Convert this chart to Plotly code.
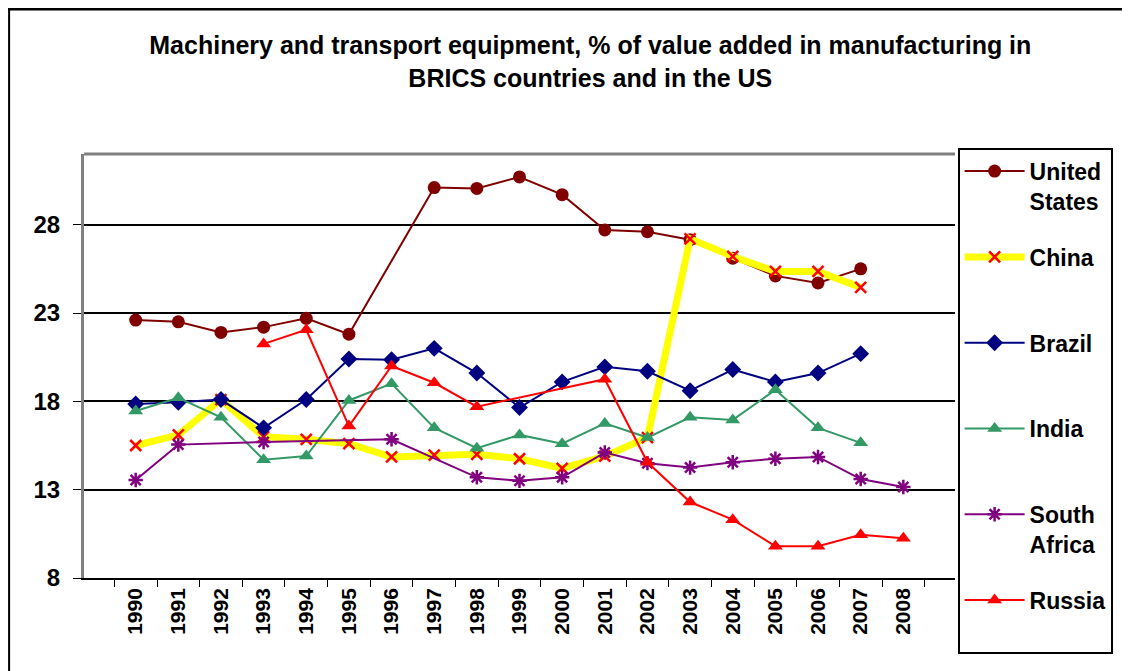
import plotly.graph_objects as go

# %%
# Data (None = no point shown for that year)
years = [str(y) for y in range(1990, 2009)]

united_states = [22.6, 22.5, 21.9, 22.2, 22.7, 21.8, None, 30.1, 30.05, 30.7, 29.7,
                 27.7, 27.6, 27.15, 26.1, 25.1, 24.7, 25.5, None]
china = [15.5, 16.1, 18.1, 16.0, 15.85, 15.6, 14.85, 14.95, 15.0, 14.75, 14.2,
         14.9, 15.95, 27.2, 26.2, 25.35, 25.35, 24.45, None]
brazil = [17.85, 17.95, 18.1, 16.5, 18.1, 20.4, 20.35, 21.0, 19.6, 17.65, 19.1,
          19.95, 19.7, 18.6, 19.8, 19.1, 19.6, 20.7, None]
india = [17.45, 18.2, 17.1, 14.7, 14.9, 18.05, 19.0, 16.5, 15.35, 16.1, 15.6,
         16.75, 15.95, 17.1, 16.95, 18.65, 16.5, 15.65, None]
south_africa = [13.55, 15.55, None, 15.7, None, None, 15.85, None, 13.7, 13.5, 13.7,
                15.1, 14.5, 14.25, 14.55, 14.75, 14.85, 13.6, 13.15]
russia = [None, None, None, 21.25, 22.05, 16.6, 20.0, 19.05, 17.7, None, None,
          19.25, 14.55, 12.3, 11.3, 9.8, 9.8, 10.45, 10.25]

y_ticks = [8, 13, 18, 23, 28]

# %%
font = "Liberation Sans, Arial, sans-serif"

fig = go.Figure()

# every legend label gets two lines so the entries are evenly spaced
fig.add_trace(go.Scatter(
    x=years, y=united_states, name="<b>United<br>States</b>",
    mode="lines+markers", connectgaps=True,
    line=dict(color="#800000", width=2),
    marker=dict(symbol="circle", size=13, color="#800000"),
))

fig.add_trace(go.Scatter(
    x=years, y=china, name="<b>China</b><br> ",
    mode="lines+markers", connectgaps=True,
    line=dict(color="#FFFF00", width=7),
    marker=dict(symbol="x-thin-open", size=11, color="#FF0000",
                line=dict(color="#FF0000", width=2.5)),
))

fig.add_trace(go.Scatter(
    x=years, y=brazil, name="<b>Brazil</b><br> ",
    mode="lines+markers", connectgaps=True,
    line=dict(color="#000080", width=2),
    marker=dict(symbol="diamond", size=13, color="#000080"),
))

fig.add_trace(go.Scatter(
    x=years, y=india, name="<b>India</b><br> ",
    mode="lines+markers", connectgaps=True,
    line=dict(color="#339966", width=2),
    marker=dict(symbol="triangle-up", size=13, color="#339966"),
))

fig.add_trace(go.Scatter(
    x=years, y=south_africa, name="<b>South<br>Africa</b>",
    mode="lines+markers", connectgaps=True,
    line=dict(color="#800080", width=2),
    marker=dict(symbol="asterisk-open", size=12, color="#800080",
                line=dict(color="#800080", width=2.5)),
))

fig.add_trace(go.Scatter(
    x=years, y=russia, name="<b>Russia</b><br> ",
    mode="lines+markers", connectgaps=True,
    line=dict(color="#FF0000", width=2),
    marker=dict(symbol="triangle-up", size=13, color="#FF0000"),
))

# give each trace its own group so tracegroupgap spaces the legend entries
for i, tr in enumerate(fig.data):
    tr.legendgroup = f"g{i}"

# %%
# page body has an 8px margin, so the figure is laid out 8px smaller
fig.update_layout(
    width=1122, height=663,
    margin=dict(l=76, r=175, t=146, b=93),
    paper_bgcolor="white", plot_bgcolor="white",
    font=dict(family=font, color="black"),
    title=dict(
        text="<b>Machinery and transport equipment, % of value added in manufacturing in"
             "<br>BRICS countries and in the US</b>",
        x=0.519, xref="container", xanchor="center",
        y=0.93, yref="container", yanchor="top",
        font=dict(size=25, family=font, color="black"),
    ),
    legend=dict(
        x=1.003, xanchor="left", y=1.015, yanchor="top",
        bgcolor="white", bordercolor="black", borderwidth=2,
        font=dict(size=23, family=font, color="black"),
        tracegroupgap=23, itemwidth=60, valign="top",
        entrywidth=105, entrywidthmode="pixels",
        maxheight=640,
    ),
    showlegend=True,
)

fig.update_xaxes(
    type="category",
    showgrid=False,
    showline=True, linecolor="black", linewidth=1.5,
    ticks="outside", tickson="boundaries", ticklen=7, tickcolor="black",
    tickangle=-90,
    tickfont=dict(size=21, family=font, color="black"),
    tickprefix="<b>", ticksuffix="</b>",
)

fig.update_yaxes(
    range=[8, 32],
    tickvals=y_ticks,
    ticktext=[f"<b>{v}</b>" for v in y_ticks],
    showgrid=True, gridcolor="black", gridwidth=1.5,
    showline=True, linecolor="#808080", linewidth=3,
    ticks="outside", ticklen=8, tickcolor="black",
    ticklabelstandoff=8,
    tickfont=dict(size=24, family=font, color="black"),
    zeroline=False,
)

# grey top border of plot area and the outer frame lines of the original image
fig.add_shape(type="line", xref="paper", yref="paper", x0=0, x1=1, y0=1, y1=1,
              line=dict(color="#808080", width=3))
fig.add_shape(type="line", xref="paper", yref="paper", x0=-0.1, x1=1.2, y0=1.342, y1=1.342,
              line=dict(color="black", width=3))
fig.add_shape(type="line", xref="paper", yref="paper", x0=-0.086, x1=-0.086, y0=-0.25, y1=1.342,
              line=dict(color="black", width=2))

fig.write_html("out.html")
